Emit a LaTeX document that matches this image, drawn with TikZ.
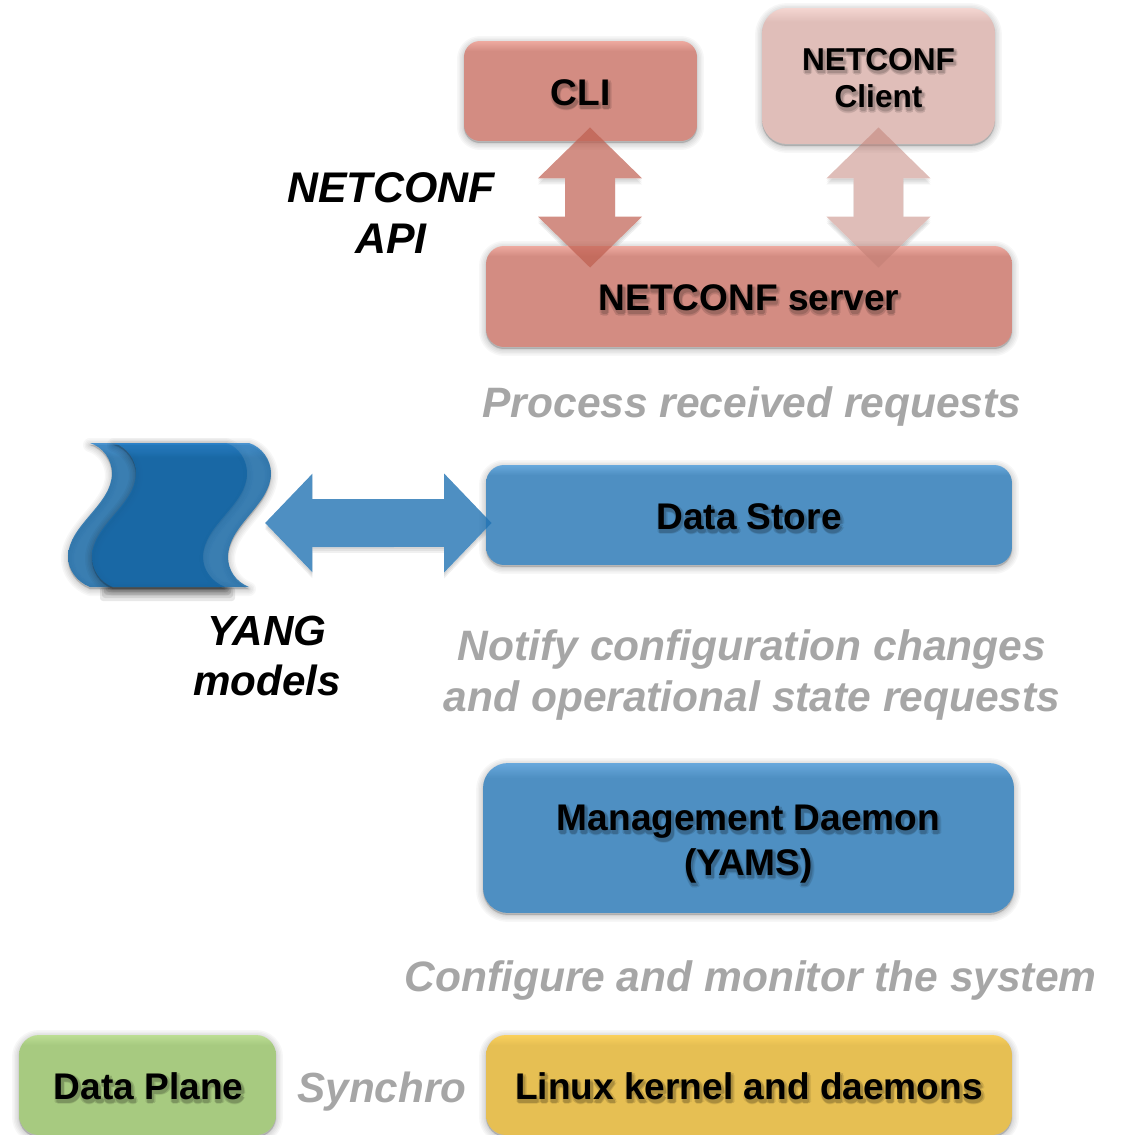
\documentclass[tikz,border=0pt]{standalone}
\usepackage{fontspec}
\setmainfont{Liberation Sans}
\usetikzlibrary{arrows.meta}
\pgfdeclarelayer{under}
\pgfsetlayers{under,main}
\definecolor{redtop}{RGB}{238,170,160}\definecolor{redmain}{RGB}{211,140,130}
\definecolor{paletop}{RGB}{244,214,209}\definecolor{palemain}{RGB}{224,190,185}
\definecolor{bluetop}{RGB}{104,168,220}\definecolor{bluemain}{RGB}{78,143,194}
\definecolor{greentop}{RGB}{188,222,148}\definecolor{greenmain}{RGB}{167,202,128}
\definecolor{yellowtop}{RGB}{250,208,92}\definecolor{yellowmain}{RGB}{230,191,83}
\definecolor{wavetop}{RGB}{38,130,205}\definecolor{wavemain}{RGB}{20,105,170}
\definecolor{captiongrey}{RGB}{166,166,166}
\definecolor{redarrow}{RGB}{191,95,80}\definecolor{palearrow}{RGB}{192,125,115}
\definecolor{bluearrow}{RGB}{34,115,179}
\newcommand\declbox[3]{\pgfdeclareverticalshading{#1}{100bp}{color(0bp)=(#3); color(70bp)=(#3); color(75bp)=(#2); color(100bp)=(#2)}}
\declbox{redshade}{redtop}{redmain}
\declbox{paleshade}{paletop}{palemain}
\declbox{blueshade}{bluetop}{bluemain}
\declbox{greenshade}{greentop}{greenmain}
\declbox{yellowshade}{yellowtop}{yellowmain}
\declbox{waveshade}{wavetop}{wavemain}
\newcommand\shcopy[4]{\rlap{\kern#1\smash{\raisebox{#2}{\textcolor{#3}{#4}}}}}
\newcommand\shtext[2]{\leavevmode
 \shcopy{2.3pt}{-1.7pt}{#1!92!black}{#2}\shcopy{-.5pt}{-1.7pt}{#1!92!black}{#2}%
 \shcopy{.9pt}{-3.1pt}{#1!92!black}{#2}\shcopy{.9pt}{-.3pt}{#1!92!black}{#2}%
 \shcopy{1.7pt}{-2.5pt}{#1!86!black}{#2}\shcopy{.1pt}{-2.5pt}{#1!86!black}{#2}%
 \shcopy{1.7pt}{-.9pt}{#1!86!black}{#2}\shcopy{.1pt}{-.9pt}{#1!86!black}{#2}%
 \shcopy{1.4pt}{-1.7pt}{#1!74!black}{#2}\shcopy{.4pt}{-1.7pt}{#1!74!black}{#2}%
 \shcopy{.9pt}{-2.2pt}{#1!74!black}{#2}\shcopy{.9pt}{-1.2pt}{#1!74!black}{#2}%
 \textcolor{black}{#2}}
\newcommand\blockconn[7]{% from, to, shaft, tip length, tip width, colour, opacity
 \begin{pgfonlayer}{under}
 \foreach \sdy in {-.04cm,-.08cm,-.12cm}{
  \draw[line width=#3,{Triangle[length=#4,width=#5]}-{Triangle[length=#4,width=#5]},black,opacity=.06,transform canvas={yshift=\sdy}] #1 -- #2;}
 \draw[line width=#3,{Triangle[length=#4,width=#5]}-{Triangle[length=#4,width=#5]},white] #1 -- #2;
 \end{pgfonlayer}
 \begin{scope}[transparency group,opacity=#7]
  \draw[line width=#3,{Triangle[length=#4,width=#5]}-{Triangle[length=#4,width=#5]},#6] #1 -- #2;
 \end{scope}}
\tikzset{
 softshadow/.style={
  preaction={draw=black,fill=black,line join=round,line width=.28cm,opacity=.03,transform canvas={yshift=-.04cm}},
  preaction={draw=black,fill=black,line join=round,line width=.22cm,opacity=.03,transform canvas={yshift=-.04cm}},
  preaction={draw=black,fill=black,line join=round,line width=.16cm,opacity=.035,transform canvas={yshift=-.04cm}},
  preaction={draw=black,fill=black,line join=round,line width=.10cm,opacity=.04,transform canvas={yshift=-.04cm}},
  preaction={draw=black,fill=black,line join=round,line width=.04cm,opacity=.05,transform canvas={yshift=-.04cm}}},
 boxnode/.style={softshadow,shape=rectangle,shade,inner sep=0pt,align=center,text=black,
  font=\bfseries\fontsize{21.1}{25.5}\selectfont},
 caption/.style={align=center,inner sep=0pt,text=captiongrey,
  font=\bfseries\itshape\fontsize{24.2}{29}\selectfont},
 blacklabel/.style={align=center,inner sep=0pt,text=black,
  font=\bfseries\itshape\fontsize{24.4}{29}\selectfont},
 waveshape/.style={softshadow,shade,shading=waveshade,fill opacity=.8,opacity=.8}
}
\newcommand\oneline{\rule{0pt}{16.6pt}}
\begin{document}
\begin{tikzpicture}[x=.02cm,y=-.02cm]
\useasboundingbox (0,0) rectangle (1125,1135);
% shadow under the wave's lower edge
\foreach \sa/\sb/\sc in {100/235/601,102/233/598,104/231/595,106/229/592,108/227/590}
  \fill[black,opacity=.09,rounded corners=.06cm] (\sa,587) rectangle (\sb,\sc);
% wave (YANG models)
\path[waveshape] (90,443) .. controls (103,447) and (112,460) .. (112,473)
  .. controls (112,505) and (68,525) .. (68,557) .. controls (68,570) and (77,582) .. (90,587)
  -- (225,587) .. controls (212,582) and (203,570) .. (203,557)
  .. controls (203,525) and (247,505) .. (247,473) .. controls (247,460) and (239,447) .. (226,443) -- cycle;
\path[waveshape] (114,443) .. controls (127,447) and (136,460) .. (136,473)
  .. controls (136,505) and (92,525) .. (92,557) .. controls (92,570) and (100,582) .. (113,587)
  -- (249,587) .. controls (236,582) and (228,570) .. (228,557)
  .. controls (228,525) and (271,505) .. (271,473) .. controls (271,460) and (262,447) .. (249,443) -- cycle;
\coordinate (yang) at (265,523);
% boxes
\node[boxnode,shading=redshade,rounded corners=.32cm,minimum width=4.66cm,minimum height=2cm] (cli) at (580.5,91) {\oneline\shtext{redmain}{CLI}};
\node[boxnode,shading=paleshade,rounded corners=.5cm,minimum width=4.66cm,minimum height=2.72cm,font=\bfseries\fontsize{18}{21.5}\selectfont] (client) at (878.5,76) {\rule{0pt}{14.9pt}\shtext{palemain}{NETCONF}\\\shtext{palemain}{Client}};
\node[boxnode,shading=redshade,rounded corners=.36cm,minimum width=10.52cm,minimum height=2.02cm] (srv) at (749,296.5) {\oneline\shtext{redmain}{NETCONF server}};
\node[boxnode,shading=blueshade,rounded corners=.36cm,minimum width=10.52cm,minimum height=2cm] (store) at (749,515) {\oneline\shtext{bluemain}{Data Store}};
\node[boxnode,shading=blueshade,rounded corners=.5cm,minimum width=10.62cm,minimum height=3cm] (yams) at (748.5,838) {\rule{0pt}{21pt}\shtext{bluemain}{Management Daemon}\\\shtext{bluemain}{(YAMS)}};
\node[boxnode,shading=yellowshade,rounded corners=.4cm,minimum width=10.52cm,minimum height=2cm] (linux) at (749,1085) {\oneline\shtext{yellowmain}{Linux kernel and daemons}};
\node[boxnode,shading=greenshade,rounded corners=.4cm,minimum width=5.14cm,minimum height=2cm] (plane) at (147.5,1085) {\oneline\kern1.2pt\shtext{greenmain}{Data Plane}};
% block connectors
\blockconn{([xshift=.19cm,yshift=.28cm]cli.south)}{([xshift=-3.18cm,yshift=-.44cm]srv.north)}{1cm}{1.02cm}{2.02cm}{redarrow}{.7}
\blockconn{([yshift=.34cm]client.south)}{([xshift=2.59cm,yshift=-.44cm]srv.north)}{1cm}{1.02cm}{2.02cm}{palearrow}{.5}
\blockconn{(yang)}{([xshift=.12cm,yshift=-.16cm]store.west)}{.96cm}{.95cm}{1.92cm}{bluearrow}{.8}
% captions
\node[blacklabel] (api) at (391,213) {NETCONF\\API};
\node[blacklabel,font=\bfseries\itshape\fontsize{24}{29}\selectfont] (yanglabel) at (267,656) {YANG\\models};
\node[caption] (c1) at (752,407) {Process received requests};
\node[caption] (c2) at (752,675) {Notify configuration changes\\and operational state requests};
\node[caption] (c3) at (750.5,980) {Configure and monitor the system};
\node[caption,font=\bfseries\itshape\fontsize{24}{29}\selectfont] (c4) at (382,1092) {Synchro};
\end{tikzpicture}
\end{document}
